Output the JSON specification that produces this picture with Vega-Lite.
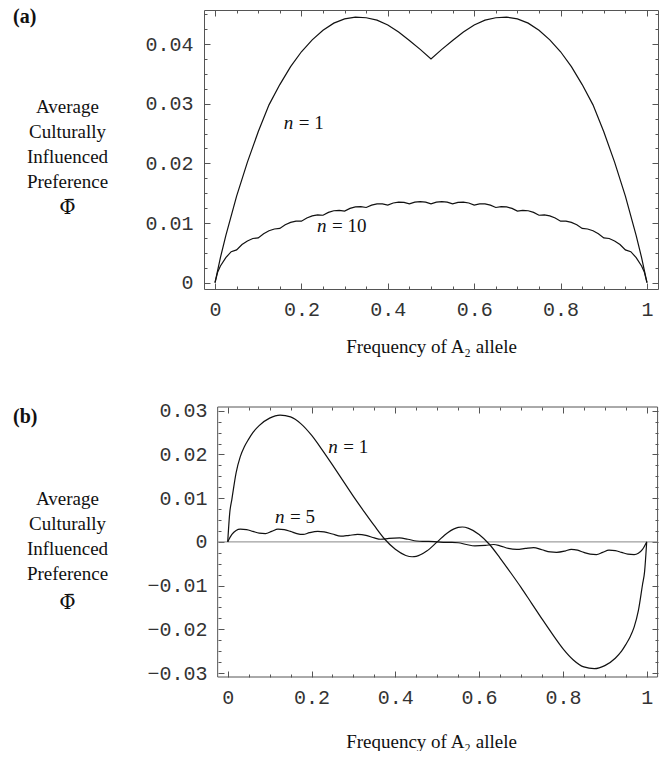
{
  "$schema": "https://vega.github.io/schema/vega-lite/v6.json",
  "padding": {"left": 12, "top": 6, "right": 0, "bottom": 0},
  "spacing": 43,
  "config": {
    "view": {"stroke": "#555", "strokeWidth": 1},
    "axis": {"domain": false, "grid": false, "labelFont": "Liberation Mono", "labelFontSize": 20, "labelColor": "#333", "tickColor": "#555", "tickWidth": 1, "titleFont": "Liberation Serif", "titleFontSize": 19, "titleFontWeight": "normal", "titleColor": "#111", "labelFlush": false, "labelOverlap": false},
    "title": {"font": "Liberation Serif", "fontSize": 20, "fontWeight": "bold", "anchor": "start", "frame": "group", "baseline": "top", "offset": -17, "color": "#111"},
    "text": {"font": "Liberation Serif", "fontSize": 19, "color": "#111"}
  },
  "datasets": {
    "top": [
      {"x":0,"y":0,"s":"n1"},{"x":0.0125,"y":0.0042,"s":"n1"},{"x":0.025,"y":0.0079,"s":"n1"},{"x":0.05,"y":0.0145,"s":"n1"},{"x":0.075,"y":0.0202,"s":"n1"},{"x":0.1,"y":0.0253,"s":"n1"},{"x":0.125,"y":0.0298,"s":"n1"},{"x":0.15,"y":0.0332,"s":"n1"},{"x":0.175,"y":0.0362,"s":"n1"},{"x":0.2,"y":0.0387,"s":"n1"},{"x":0.225,"y":0.0407,"s":"n1"},{"x":0.25,"y":0.0423,"s":"n1"},{"x":0.275,"y":0.0435,"s":"n1"},{"x":0.3,"y":0.0442,"s":"n1"},{"x":0.325,"y":0.0445,"s":"n1"},{"x":0.35,"y":0.0444,"s":"n1"},{"x":0.375,"y":0.044,"s":"n1"},{"x":0.4,"y":0.0432,"s":"n1"},{"x":0.425,"y":0.042,"s":"n1"},{"x":0.45,"y":0.0406,"s":"n1"},{"x":0.475,"y":0.0391,"s":"n1"},{"x":0.5,"y":0.0375,"s":"n1"},{"x":0.525,"y":0.0391,"s":"n1"},{"x":0.55,"y":0.0406,"s":"n1"},{"x":0.575,"y":0.042,"s":"n1"},{"x":0.6,"y":0.0432,"s":"n1"},{"x":0.625,"y":0.044,"s":"n1"},{"x":0.65,"y":0.0444,"s":"n1"},{"x":0.675,"y":0.0445,"s":"n1"},{"x":0.7,"y":0.0442,"s":"n1"},{"x":0.725,"y":0.0435,"s":"n1"},{"x":0.75,"y":0.0423,"s":"n1"},{"x":0.775,"y":0.0407,"s":"n1"},{"x":0.8,"y":0.0387,"s":"n1"},{"x":0.825,"y":0.0362,"s":"n1"},{"x":0.85,"y":0.0332,"s":"n1"},{"x":0.875,"y":0.0298,"s":"n1"},{"x":0.9,"y":0.0253,"s":"n1"},{"x":0.925,"y":0.0202,"s":"n1"},{"x":0.95,"y":0.0145,"s":"n1"},{"x":0.975,"y":0.0079,"s":"n1"},{"x":0.9875,"y":0.0042,"s":"n1"},{"x":1,"y":0,"s":"n1"},
      {"x":0,"y":0,"s":"n10"},{"x":0.00625,"y":0.0018,"s":"n10"},{"x":0.0125,"y":0.0028,"s":"n10"},{"x":0.025,"y":0.0042,"s":"n10"},{"x":0.0375,"y":0.0052,"s":"n10"},{"x":0.05,"y":0.0055,"s":"n10"},{"x":0.0625,"y":0.0064,"s":"n10"},{"x":0.075,"y":0.007,"s":"n10"},{"x":0.0875,"y":0.0074,"s":"n10"},{"x":0.1,"y":0.0075,"s":"n10"},{"x":0.1125,"y":0.0082,"s":"n10"},{"x":0.125,"y":0.0087,"s":"n10"},{"x":0.1375,"y":0.009,"s":"n10"},{"x":0.15,"y":0.0091,"s":"n10"},{"x":0.1625,"y":0.0097,"s":"n10"},{"x":0.175,"y":0.0101,"s":"n10"},{"x":0.1875,"y":0.0103,"s":"n10"},{"x":0.2,"y":0.0103,"s":"n10"},{"x":0.2125,"y":0.01085,"s":"n10"},{"x":0.225,"y":0.0112,"s":"n10"},{"x":0.2375,"y":0.01135,"s":"n10"},{"x":0.25,"y":0.0113,"s":"n10"},{"x":0.2625,"y":0.01178,"s":"n10"},{"x":0.275,"y":0.01205,"s":"n10"},{"x":0.2875,"y":0.01213,"s":"n10"},{"x":0.3,"y":0.012,"s":"n10"},{"x":0.3125,"y":0.01245,"s":"n10"},{"x":0.325,"y":0.0127,"s":"n10"},{"x":0.3375,"y":0.01275,"s":"n10"},{"x":0.35,"y":0.0126,"s":"n10"},{"x":0.3625,"y":0.013,"s":"n10"},{"x":0.375,"y":0.0132,"s":"n10"},{"x":0.3875,"y":0.0132,"s":"n10"},{"x":0.4,"y":0.013,"s":"n10"},{"x":0.4125,"y":0.01335,"s":"n10"},{"x":0.425,"y":0.0135,"s":"n10"},{"x":0.4375,"y":0.01345,"s":"n10"},{"x":0.45,"y":0.0132,"s":"n10"},{"x":0.4625,"y":0.0135,"s":"n10"},{"x":0.475,"y":0.0136,"s":"n10"},{"x":0.4875,"y":0.0135,"s":"n10"},{"x":0.5,"y":0.0132,"s":"n10"},
      {"x":0.5125,"y":0.0135,"s":"n10"},{"x":0.525,"y":0.0136,"s":"n10"},{"x":0.5375,"y":0.0135,"s":"n10"},{"x":0.55,"y":0.0132,"s":"n10"},{"x":0.5625,"y":0.01345,"s":"n10"},{"x":0.575,"y":0.0135,"s":"n10"},{"x":0.5875,"y":0.01335,"s":"n10"},{"x":0.6,"y":0.013,"s":"n10"},{"x":0.6125,"y":0.0132,"s":"n10"},{"x":0.625,"y":0.0132,"s":"n10"},{"x":0.6375,"y":0.013,"s":"n10"},{"x":0.65,"y":0.0126,"s":"n10"},{"x":0.6625,"y":0.01275,"s":"n10"},{"x":0.675,"y":0.0127,"s":"n10"},{"x":0.6875,"y":0.01245,"s":"n10"},{"x":0.7,"y":0.012,"s":"n10"},{"x":0.7125,"y":0.01213,"s":"n10"},{"x":0.725,"y":0.01205,"s":"n10"},{"x":0.7375,"y":0.01178,"s":"n10"},{"x":0.75,"y":0.0113,"s":"n10"},{"x":0.7625,"y":0.01135,"s":"n10"},{"x":0.775,"y":0.0112,"s":"n10"},{"x":0.7875,"y":0.01085,"s":"n10"},{"x":0.8,"y":0.0103,"s":"n10"},{"x":0.8125,"y":0.0103,"s":"n10"},{"x":0.825,"y":0.0101,"s":"n10"},{"x":0.8375,"y":0.0097,"s":"n10"},{"x":0.85,"y":0.0091,"s":"n10"},{"x":0.8625,"y":0.009,"s":"n10"},{"x":0.875,"y":0.0087,"s":"n10"},{"x":0.8875,"y":0.0082,"s":"n10"},{"x":0.9,"y":0.0075,"s":"n10"},{"x":0.9125,"y":0.0074,"s":"n10"},{"x":0.925,"y":0.007,"s":"n10"},{"x":0.9375,"y":0.0064,"s":"n10"},{"x":0.95,"y":0.0055,"s":"n10"},{"x":0.9625,"y":0.0052,"s":"n10"},{"x":0.975,"y":0.0042,"s":"n10"},{"x":0.9875,"y":0.0028,"s":"n10"},{"x":0.99375,"y":0.0018,"s":"n10"},{"x":1,"y":0,"s":"n10"}
    ],
    "bottom": [
      {"x":0,"y":0,"s":"n1"},{"x":0.005,"y":0.0068,"s":"n1"},{"x":0.01,"y":0.0098,"s":"n1"},{"x":0.02,"y":0.0158,"s":"n1"},{"x":0.03,"y":0.0195,"s":"n1"},{"x":0.04,"y":0.0218,"s":"n1"},{"x":0.05,"y":0.0235,"s":"n1"},{"x":0.06,"y":0.025,"s":"n1"},{"x":0.075,"y":0.0266,"s":"n1"},{"x":0.1,"y":0.0283,"s":"n1"},{"x":0.125,"y":0.029,"s":"n1"},{"x":0.15,"y":0.0286,"s":"n1"},{"x":0.175,"y":0.027,"s":"n1"},{"x":0.2,"y":0.0244,"s":"n1"},{"x":0.225,"y":0.0211,"s":"n1"},{"x":0.25,"y":0.0176,"s":"n1"},{"x":0.275,"y":0.014,"s":"n1"},{"x":0.3,"y":0.0104,"s":"n1"},{"x":0.325,"y":0.007,"s":"n1"},{"x":0.35,"y":0.0037,"s":"n1"},{"x":0.375,"y":0.0006,"s":"n1"},{"x":0.4,"y":-0.0017,"s":"n1"},{"x":0.425,"y":-0.0031,"s":"n1"},{"x":0.44,"y":-0.0034,"s":"n1"},{"x":0.45,"y":-0.0033,"s":"n1"},{"x":0.475,"y":-0.0021,"s":"n1"},{"x":0.5,"y":0,"s":"n1"},{"x":0.525,"y":0.0021,"s":"n1"},{"x":0.55,"y":0.0033,"s":"n1"},{"x":0.56,"y":0.0034,"s":"n1"},{"x":0.575,"y":0.0031,"s":"n1"},{"x":0.6,"y":0.0017,"s":"n1"},{"x":0.625,"y":-0.0006,"s":"n1"},{"x":0.65,"y":-0.0037,"s":"n1"},{"x":0.675,"y":-0.007,"s":"n1"},{"x":0.7,"y":-0.0104,"s":"n1"},{"x":0.725,"y":-0.014,"s":"n1"},{"x":0.75,"y":-0.0176,"s":"n1"},{"x":0.775,"y":-0.0211,"s":"n1"},{"x":0.8,"y":-0.0244,"s":"n1"},{"x":0.825,"y":-0.027,"s":"n1"},{"x":0.85,"y":-0.0286,"s":"n1"},{"x":0.875,"y":-0.029,"s":"n1"},{"x":0.9,"y":-0.0283,"s":"n1"},{"x":0.925,"y":-0.0266,"s":"n1"},{"x":0.94,"y":-0.025,"s":"n1"},{"x":0.95,"y":-0.0235,"s":"n1"},{"x":0.96,"y":-0.0218,"s":"n1"},{"x":0.97,"y":-0.0195,"s":"n1"},{"x":0.98,"y":-0.0158,"s":"n1"},{"x":0.99,"y":-0.0098,"s":"n1"},{"x":0.995,"y":-0.0068,"s":"n1"},{"x":1,"y":0,"s":"n1"},
      {"x":0,"y":0,"s":"n5"},{"x":0.01,"y":0.0017,"s":"n5"},{"x":0.02,"y":0.0026,"s":"n5"},{"x":0.03,"y":0.0029,"s":"n5"},{"x":0.045,"y":0.0028,"s":"n5"},{"x":0.06,"y":0.0024,"s":"n5"},{"x":0.075,"y":0.002,"s":"n5"},{"x":0.09,"y":0.0019,"s":"n5"},{"x":0.105,"y":0.0024,"s":"n5"},{"x":0.12,"y":0.0029,"s":"n5"},{"x":0.135,"y":0.0028,"s":"n5"},{"x":0.15,"y":0.0024,"s":"n5"},{"x":0.165,"y":0.0019,"s":"n5"},{"x":0.18,"y":0.0017,"s":"n5"},{"x":0.195,"y":0.0021,"s":"n5"},{"x":0.215,"y":0.0024,"s":"n5"},{"x":0.23,"y":0.0023,"s":"n5"},{"x":0.25,"y":0.0018,"s":"n5"},{"x":0.27,"y":0.0013,"s":"n5"},{"x":0.29,"y":0.0015,"s":"n5"},{"x":0.31,"y":0.0017,"s":"n5"},{"x":0.33,"y":0.0015,"s":"n5"},{"x":0.35,"y":0.0009,"s":"n5"},{"x":0.365,"y":0.0006,"s":"n5"},{"x":0.385,"y":0.0008,"s":"n5"},{"x":0.41,"y":0.0009,"s":"n5"},{"x":0.43,"y":0.0006,"s":"n5"},{"x":0.45,"y":0.0002,"s":"n5"},{"x":0.465,"y":0.0001,"s":"n5"},{"x":0.48,"y":0.0001,"s":"n5"},{"x":0.5,"y":0,"s":"n5"},{"x":0.52,"y":-0.0001,"s":"n5"},{"x":0.535,"y":-0.0001,"s":"n5"},{"x":0.55,"y":-0.0002,"s":"n5"},{"x":0.57,"y":-0.0006,"s":"n5"},{"x":0.59,"y":-0.0009,"s":"n5"},{"x":0.615,"y":-0.0008,"s":"n5"},{"x":0.635,"y":-0.0006,"s":"n5"},{"x":0.65,"y":-0.0009,"s":"n5"},{"x":0.67,"y":-0.0015,"s":"n5"},{"x":0.69,"y":-0.0017,"s":"n5"},{"x":0.71,"y":-0.0015,"s":"n5"},{"x":0.73,"y":-0.0013,"s":"n5"},{"x":0.75,"y":-0.0018,"s":"n5"},{"x":0.77,"y":-0.0023,"s":"n5"},{"x":0.785,"y":-0.0024,"s":"n5"},{"x":0.805,"y":-0.0021,"s":"n5"},{"x":0.82,"y":-0.0017,"s":"n5"},{"x":0.835,"y":-0.0019,"s":"n5"},{"x":0.85,"y":-0.0024,"s":"n5"},{"x":0.865,"y":-0.0028,"s":"n5"},{"x":0.88,"y":-0.0029,"s":"n5"},{"x":0.895,"y":-0.0024,"s":"n5"},{"x":0.91,"y":-0.0019,"s":"n5"},{"x":0.925,"y":-0.002,"s":"n5"},{"x":0.94,"y":-0.0024,"s":"n5"},{"x":0.955,"y":-0.0028,"s":"n5"},{"x":0.97,"y":-0.0029,"s":"n5"},{"x":0.98,"y":-0.0026,"s":"n5"},{"x":0.99,"y":-0.0017,"s":"n5"},{"x":1,"y":0,"s":"n5"}
    ],
    "toplab": [{"x":0.159,"y":0.0267,"r":"= 1"},{"x":0.236,"y":0.0095,"r":"= 10"}],
    "botlab": [{"x":0.24,"y":0.0218,"r":"= 1"},{"x":0.113,"y":0.0057,"r":"= 5"}],
    "frame": [{"x1":-0.024,"x2":1.026,"y1":-0.0309,"y2":0.03085}]
  },
  "vconcat": [
    {
      "title": {"text": "(a)", "dx": -191},
      "width": 454,
      "height": 279,
      "resolve": {"axis": {"x": "independent", "y": "independent"}},
      "layer": [
        {
          "data": {"name": "top"},
          "mark": {"type": "line", "color": "#111", "strokeWidth": 1.2},
          "encoding": {
            "x": {"field": "x", "type": "quantitative", "scale": {"domain": [-0.0255, 1.0255], "nice": false, "zero": false},
                  "axis": {"orient": "bottom", "values": [0, 0.2, 0.4, 0.6, 0.8, 1], "format": "~g", "tickSize": -6, "labelPadding": 16, "title": "Frequency of A₂ allele", "titleY": 57, "titleBaseline": "middle"}},
            "y": {"field": "y", "type": "quantitative", "scale": {"domain": [-0.00106, 0.0457], "nice": false, "zero": false},
                  "axis": {"orient": "left", "values": [0, 0.01, 0.02, 0.03, 0.04], "format": "~g", "tickSize": -6, "labelPadding": 17, "title": ["Average", "Culturally", "Influenced", "Preference"], "titleAngle": 0, "titleAlign": "center", "titleBaseline": "middle", "titleX": -137, "titleY": 96, "titleLineHeight": 25}},
            "detail": {"field": "s"}
          }
        },
        {
          "data": {"name": "toplab"},
          "mark": {"type": "text", "fontStyle": "italic", "align": "left", "baseline": "middle"},
          "encoding": {
            "x": {"field": "x", "type": "quantitative", "axis": {"orient": "top", "values": [0, 0.2, 0.4, 0.6, 0.8, 1], "labels": false, "tickSize": -6, "title": null}},
            "y": {"field": "y", "type": "quantitative", "axis": {"orient": "right", "values": [0, 0.01, 0.02, 0.03, 0.04], "labels": false, "tickSize": -6, "title": "Φ̄", "titleFont": "DejaVu Serif", "titleFontSize": 20, "titleAngle": 0, "titleAlign": "center", "titleBaseline": "middle", "titleX": -591, "titleY": 197}},
            "text": {"value": "n"}
          }
        },
        {
          "data": {"name": "toplab"},
          "mark": {"type": "text", "align": "left", "baseline": "middle", "dx": 15},
          "encoding": {
            "x": {"field": "x", "type": "quantitative", "axis": {"orient": "bottom", "values": [0.05, 0.1, 0.15, 0.25, 0.3, 0.35, 0.45, 0.5, 0.55, 0.65, 0.7, 0.75, 0.85, 0.9, 0.95], "labels": false, "tickSize": -3, "title": null}},
            "y": {"field": "y", "type": "quantitative", "axis": {"orient": "left", "values": [0.0025, 0.005, 0.0075, 0.0125, 0.015, 0.0175, 0.0225, 0.025, 0.0275, 0.0325, 0.035, 0.0375, 0.0425, 0.045], "labels": false, "tickSize": -3, "title": null}},
            "text": {"field": "r"}
          }
        },
        {
          "data": {"name": "toplab"},
          "mark": {"type": "point", "opacity": 0},
          "encoding": {
            "x": {"field": "x", "type": "quantitative", "axis": {"orient": "top", "values": [0.05, 0.1, 0.15, 0.25, 0.3, 0.35, 0.45, 0.5, 0.55, 0.65, 0.7, 0.75, 0.85, 0.9, 0.95], "labels": false, "tickSize": -3, "title": null}},
            "y": {"field": "y", "type": "quantitative", "axis": {"orient": "right", "values": [0.0025, 0.005, 0.0075, 0.0125, 0.015, 0.0175, 0.0225, 0.025, 0.0275, 0.0325, 0.035, 0.0375, 0.0425, 0.045], "labels": false, "tickSize": -3, "title": null}}
          }
        }
      ]
    },
    {
      "title": {"text": "(b)", "dx": -191, "offset": -26},
      "width": 454,
      "height": 270,
      "view": {"stroke": null},
      "resolve": {"axis": {"x": "independent", "y": "independent"}},
      "layer": [
        {
          "data": {"name": "frame"},
          "mark": {"type": "rect", "fill": null, "fillOpacity": 0, "stroke": "#555", "strokeWidth": 1},
          "encoding": {
            "x": {"field": "x1", "type": "quantitative", "axis": null},
            "x2": {"field": "x2"},
            "y": {"field": "y1", "type": "quantitative", "axis": null},
            "y2": {"field": "y2"}
          }
        },
        {
          "data": {"name": "frame"},
          "mark": {"type": "rule", "color": "#888", "strokeWidth": 1},
          "encoding": {
            "x": {"field": "x1", "type": "quantitative", "axis": null},
            "x2": {"field": "x2"},
            "y": {"datum": 0, "type": "quantitative", "axis": null}
          }
        },
        {
          "data": {"name": "bottom"},
          "mark": {"type": "line", "color": "#111", "strokeWidth": 1.2, "interpolate": "monotone"},
          "encoding": {
            "x": {"field": "x", "type": "quantitative", "scale": {"domain": [-0.0566, 1.027], "nice": false, "zero": false},
                  "axis": {"orient": "bottom", "values": [0, 0.2, 0.4, 0.6, 0.8, 1], "format": "~g", "tickSize": -6, "labelPadding": 16, "title": "Frequency of A₂ allele", "titleY": 64, "titleBaseline": "middle"}},
            "y": {"field": "y", "type": "quantitative", "scale": {"domain": [-0.0309, 0.03085], "nice": false, "zero": false},
                  "axis": {"orient": "left", "offset": -14, "values": [-0.03, -0.02, -0.01, 0, 0.01, 0.02, 0.03], "format": "~g", "tickSize": -6, "labelPadding": 17, "title": ["Average", "Culturally", "Influenced", "Preference"], "titleAngle": 0, "titleAlign": "center", "titleBaseline": "middle", "titleX": -151, "titleY": 91, "titleLineHeight": 25}},
            "detail": {"field": "s"}
          }
        },
        {
          "data": {"name": "botlab"},
          "mark": {"type": "text", "fontStyle": "italic", "align": "left", "baseline": "middle"},
          "encoding": {
            "x": {"field": "x", "type": "quantitative", "axis": {"orient": "top", "values": [0, 0.2, 0.4, 0.6, 0.8, 1], "labels": false, "tickSize": -6, "title": null}},
            "y": {"field": "y", "type": "quantitative", "axis": {"orient": "right", "values": [-0.03, -0.02, -0.01, 0, 0.01, 0.02, 0.03], "labels": false, "tickSize": -6, "title": "Φ̄", "titleFont": "DejaVu Serif", "titleFontSize": 20, "titleAngle": 0, "titleAlign": "center", "titleBaseline": "middle", "titleX": -591, "titleY": 195}},
            "text": {"value": "n"}
          }
        },
        {
          "data": {"name": "botlab"},
          "mark": {"type": "text", "align": "left", "baseline": "middle", "dx": 15},
          "encoding": {
            "x": {"field": "x", "type": "quantitative", "axis": {"orient": "bottom", "values": [0.05, 0.1, 0.15, 0.25, 0.3, 0.35, 0.45, 0.5, 0.55, 0.65, 0.7, 0.75, 0.85, 0.9, 0.95], "labels": false, "tickSize": -3, "title": null}},
            "y": {"field": "y", "type": "quantitative", "axis": {"orient": "left", "offset": -14, "values": [-0.0275, -0.025, -0.0225, -0.0175, -0.015, -0.0125, -0.0075, -0.005, -0.0025, 0.0025, 0.005, 0.0075, 0.0125, 0.015, 0.0175, 0.0225, 0.025, 0.0275], "labels": false, "tickSize": -3, "title": null}},
            "text": {"field": "r"}
          }
        },
        {
          "data": {"name": "botlab"},
          "mark": {"type": "point", "opacity": 0},
          "encoding": {
            "x": {"field": "x", "type": "quantitative", "axis": {"orient": "top", "values": [0.05, 0.1, 0.15, 0.25, 0.3, 0.35, 0.45, 0.5, 0.55, 0.65, 0.7, 0.75, 0.85, 0.9, 0.95], "labels": false, "tickSize": -3, "title": null}},
            "y": {"field": "y", "type": "quantitative", "axis": {"orient": "right", "values": [-0.0275, -0.025, -0.0225, -0.0175, -0.015, -0.0125, -0.0075, -0.005, -0.0025, 0.0025, 0.005, 0.0075, 0.0125, 0.015, 0.0175, 0.0225, 0.025, 0.0275], "labels": false, "tickSize": -3, "title": null}}
          }
        }
      ]
    }
  ]
}
